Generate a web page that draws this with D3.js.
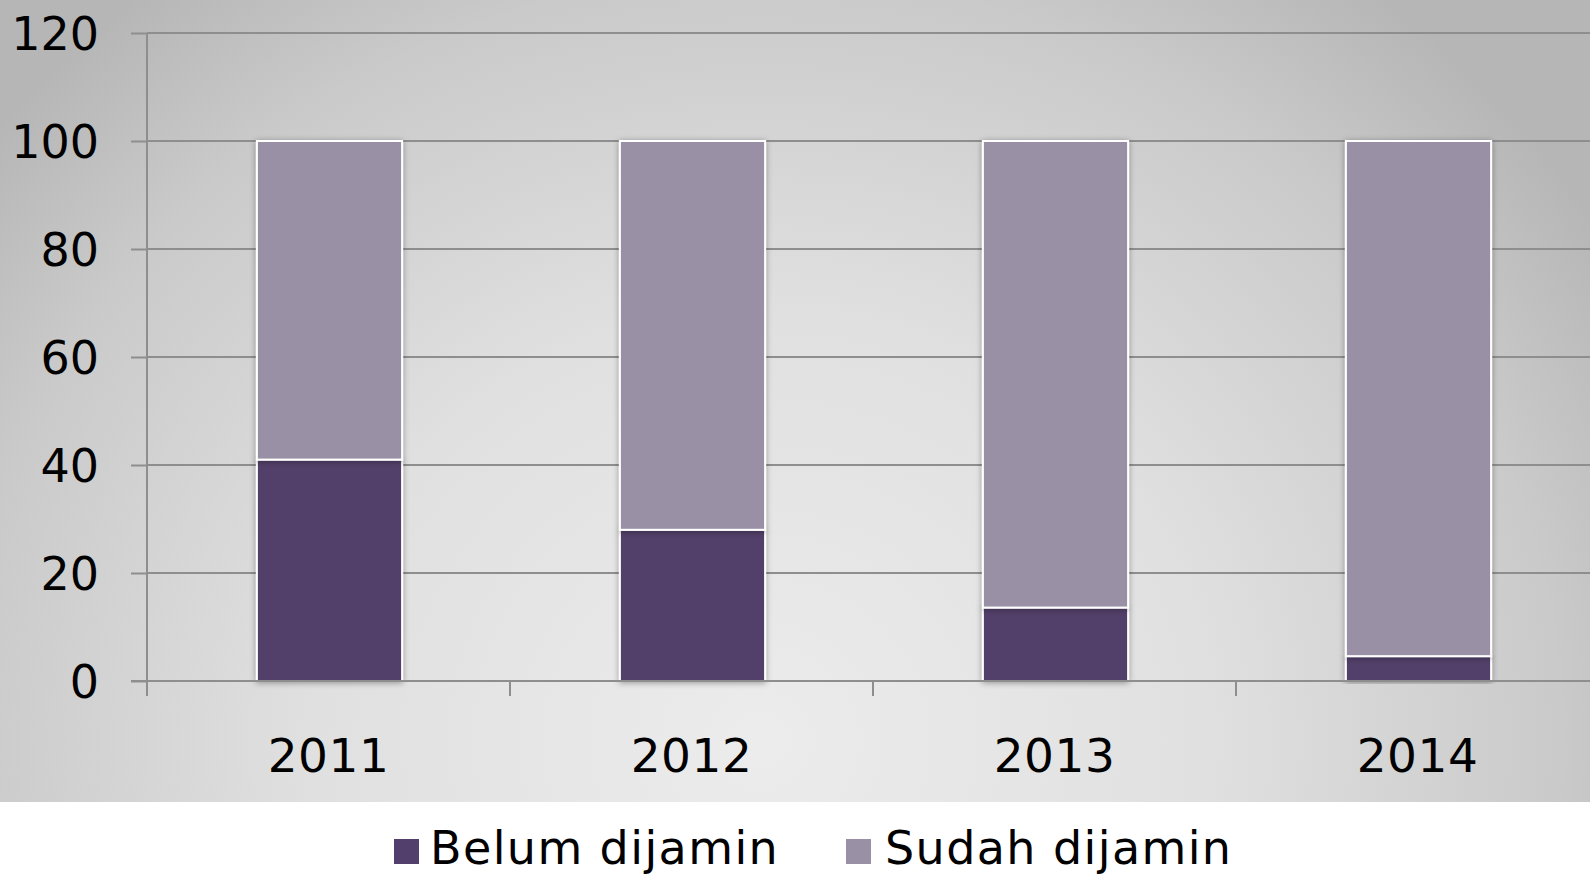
<!DOCTYPE html>
<html>
<head>
<meta charset="utf-8">
<script src="https://cdn.jsdelivr.net/npm/d3@7"></script>
<style>
  html, body { margin: 0; padding: 0; background: #ffffff; }
  svg { display: block; }
  text { font-family: "DejaVu Sans", Verdana, sans-serif; }
</style>
</head>
<body>
<svg id="chart" width="1590" height="875"></svg>
<script>
const categories = ["2011", "2012", "2013", "2014"];
const seriesNames = ["Belum dijamin", "Sudah dijamin"];
const belumValues = [41, 28, 13.6, 4.6];
const sudahValues = [59, 72, 86.4, 95.4];
const yTicks = [0, 20, 40, 60, 80, 100, 120];
const colors = ["#533f6b", "#9a90a6"];

const W = 1590, H = 875;
const svg = d3.select("#chart");
const defs = svg.append("defs");

const grad = defs.append("radialGradient")
  .attr("id", "bg").attr("gradientUnits", "userSpaceOnUse")
  .attr("cx", 760).attr("cy", 740).attr("r", 1000)
  .attr("gradientTransform", "translate(760,740) scale(1,0.95) translate(-760,-740)");
grad.append("stop").attr("offset", "0").attr("stop-color", "#ececec");
grad.append("stop").attr("offset", "0.45").attr("stop-color", "#e0e0e0");
grad.append("stop").attr("offset", "0.8").attr("stop-color", "#cacaca");
grad.append("stop").attr("offset", "1").attr("stop-color", "#b6b6b6");

const shadow = defs.append("filter").attr("id", "shadow")
  .attr("x", "-20%").attr("y", "-5%").attr("width", "140%").attr("height", "115%");
shadow.append("feGaussianBlur").attr("in", "SourceAlpha").attr("stdDeviation", 3).attr("result", "b");
shadow.append("feOffset").attr("in", "b").attr("dx", 0).attr("dy", 1).attr("result", "o");
shadow.append("feComponentTransfer").attr("in", "o").attr("result", "s")
  .append("feFuncA").attr("type", "linear").attr("slope", 0.35);
const merge = shadow.append("feMerge");
merge.append("feMergeNode").attr("in", "s");
merge.append("feMergeNode").attr("in", "SourceGraphic");

svg.append("rect").attr("x", 0).attr("y", 0).attr("width", W).attr("height", 802)
  .attr("fill", "url(#bg)");

const left = 147, bandW = 363;
const x = d3.scaleBand().domain(categories).range([left, left + bandW * categories.length])
  .paddingInner(0).paddingOuter(0);
const y = d3.scaleLinear().domain([0, 120]).range([681, 33]);

// gridlines
svg.append("g").selectAll("line").data(yTicks.filter(d => d > 0)).join("line")
  .attr("x1", left).attr("x2", W)
  .attr("y1", d => y(d)).attr("y2", d => y(d))
  .attr("stroke", "#8e8e8e").attr("stroke-width", 2);

// y axis
const yAxis = svg.append("g").attr("transform", `translate(${left},0)`)
  .call(d3.axisLeft(y).tickValues(yTicks).tickSize(16).tickPadding(32));
yAxis.select(".domain").attr("stroke", "#8e8e8e").attr("stroke-width", 2)
  .attr("d", `M0,${y(120)}V${y(0) + 15}`);
yAxis.selectAll(".tick line").attr("stroke", "#8e8e8e").attr("stroke-width", 2);
yAxis.selectAll(".tick text").attr("fill", "#000").attr("font-size", 46)
  .attr("font-family", "DejaVu Sans, Verdana, sans-serif").attr("dy", "0.36em");

// stacked bars
const data = categories.map((c, i) => ({ cat: c, belum: belumValues[i], sudah: sudahValues[i] }));
const stack = d3.stack().keys(["belum", "sudah"])(data);
const barW = x.bandwidth() * 0.4;
const barOff = x.bandwidth() * 0.3 + 1;

const bars = svg.append("g");
stack.forEach((layer, li) => {
  bars.append("g").selectAll("rect").data(layer).join("rect")
    .attr("x", d => x(d.data.cat) + barOff)
    .attr("width", barW)
    .attr("y", d => y(d[1]))
    .attr("height", d => y(d[0]) - y(d[1]))
    .attr("fill", colors[li])
    .attr("stroke", "#ffffff").attr("stroke-width", 2)
    .attr("filter", "url(#shadow)");
});

// x axis
const xAxis = svg.append("g").attr("transform", `translate(0,${y(0)})`)
  .call(d3.axisBottom(x).tickSize(0).tickPadding(58));
xAxis.select(".domain").attr("stroke", "#8e8e8e").attr("stroke-width", 2)
  .attr("d", `M${left - 16},0H${W}`);
xAxis.selectAll(".tick text").attr("fill", "#000").attr("font-size", 47)
  .attr("letter-spacing", 0.5)
  .attr("font-family", "DejaVu Sans, Verdana, sans-serif").attr("dy", "0.71em");
// category separator ticks
svg.append("g").selectAll("line").data(categories).join("line")
  .attr("x1", d => x(d)).attr("x2", d => x(d))
  .attr("y1", y(0)).attr("y2", y(0) + 15)
  .attr("stroke", "#8e8e8e").attr("stroke-width", 2);

// legend
const legendItems = [
  { name: seriesNames[0], color: colors[0], sx: 394, tx: 430 },
  { name: seriesNames[1], color: colors[1], sx: 846, tx: 885 }
];
const lg = svg.append("g");
legendItems.forEach(it => {
  lg.append("rect").attr("x", it.sx).attr("y", 839).attr("width", 25).attr("height", 25)
    .attr("fill", it.color);
  lg.append("text").attr("x", it.tx).attr("y", 864).attr("font-size", 46)
    .attr("letter-spacing", 1.4)
    .attr("fill", "#000").text(it.name);
});
</script>
</body>
</html>
